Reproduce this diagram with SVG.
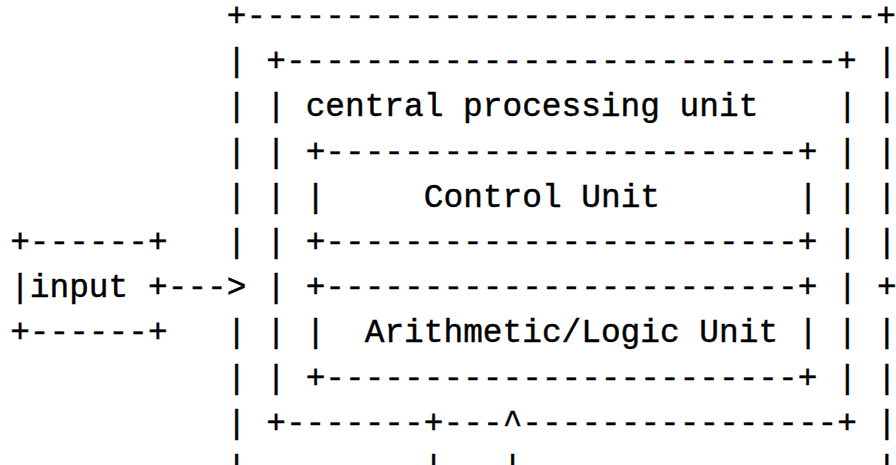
<svg xmlns="http://www.w3.org/2000/svg" width="896" height="465" viewBox="0 0 896 465">
  <style>
    text { font-family: "Liberation Mono", "DejaVu Sans Mono", monospace; font-size: 32.8px; fill: #000; stroke: #000; stroke-width: 0.45px; }
  </style>
  <rect width="896" height="465" fill="#fff"/>

  <!-- character grid: column c at x = 10.15 + 19.7*c, row r baseline at y = 26 + 45.2*r -->

  <g id="input">
    <text x="10.15" y="252">+------+</text>
    <text x="10.15" y="297.2">|input</text>
    <text x="148.05" y="297.2">+</text>
    <text x="10.15" y="342.4">+------+</text>
  </g>

  <g id="computer">
    <text x="226.85" y="26">+--------------------------------+</text>
    <text x="226.85" y="71.2">|</text><text x="876.95" y="71.2">|</text>
    <text x="226.85" y="116.4">|</text><text x="876.95" y="116.4">|</text>
    <text x="226.85" y="161.6">|</text><text x="876.95" y="161.6">|</text>
    <text x="226.85" y="206.8">|</text><text x="876.95" y="206.8">|</text>
    <text x="226.85" y="252">|</text><text x="876.95" y="252">|</text>
    <text x="226.85" y="342.4">|</text><text x="876.95" y="342.4">|</text>
    <text x="226.85" y="387.6">|</text><text x="876.95" y="387.6">|</text>
    <text x="226.85" y="432.8">|</text><text x="876.95" y="432.8">|</text>
    <text x="226.85" y="478">|</text><text x="876.95" y="478">|</text>
  </g>

  <g id="cpu">
    <text x="266.25" y="71.2">+----------------------------+</text>
    <text x="266.25" y="116.4">|</text>
    <text x="305.65" y="116.4">central processing unit</text>
    <text x="837.55" y="116.4">|</text>
    <text x="266.25" y="161.6">|</text><text x="837.55" y="161.6">|</text>
    <text x="266.25" y="206.8">|</text><text x="837.55" y="206.8">|</text>
    <text x="266.25" y="252">|</text><text x="837.55" y="252">|</text>
    <text x="266.25" y="297.2">|</text><text x="837.55" y="297.2">|</text>
    <text x="266.25" y="342.4">|</text><text x="837.55" y="342.4">|</text>
    <text x="266.25" y="387.6">|</text><text x="837.55" y="387.6">|</text>
    <text x="266.25" y="432.8">+-------</text>
    <text x="443.55" y="432.8">---</text>
    <text x="522.35" y="432.8">----------------+</text>
  </g>

  <g id="control-unit">
    <text x="305.65" y="161.6">+------------------------+</text>
    <text x="305.65" y="206.8">|</text>
    <text x="423.85" y="206.8">Control Unit</text>
    <text x="798.15" y="206.8">|</text>
    <text x="305.65" y="252">+------------------------+</text>
  </g>

  <g id="alu">
    <text x="305.65" y="297.2">+------------------------+</text>
    <text x="305.65" y="342.4">|</text>
    <text x="364.75" y="342.4">Arithmetic/Logic Unit</text>
    <text x="798.15" y="342.4">|</text>
    <text x="305.65" y="387.6">+------------------------+</text>
  </g>

  <g id="connectors">
    <!-- input to computer -->
    <text x="167.75" y="297.2">---&gt;</text>
    <!-- output tap on the right edge -->
    <text x="876.95" y="297.2">+</text>
    <!-- bus lines leaving the bottom of the cpu -->
    <text x="423.85" y="432.8">+</text>
    <text x="423.85" y="478">|</text>
    <text x="502.65" y="432.8">^</text>
    <text x="502.65" y="478">|</text>
  </g>
</svg>
